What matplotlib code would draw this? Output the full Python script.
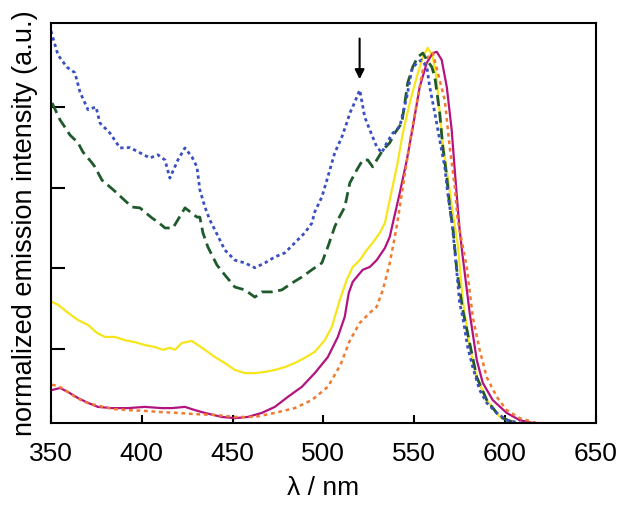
import matplotlib
matplotlib.use("Agg")
import matplotlib.pyplot as plt

# emission spectra (wavelength nm, normalized intensity)
blue_wl = [350.0, 353.9, 358.8, 363.2, 366.0, 370.4, 374.8, 377.0, 382.5, 388.0, 393.5, 399.0,
           404.5, 408.9, 412.8, 415.5, 419.9, 423.8, 427.6, 430.4, 432.0, 434.8, 437.5, 440.3,
           445.8, 451.3, 456.8, 462.3, 467.8, 473.3, 478.8, 484.3, 489.8, 493.7, 495.3, 499.2,
           502.5, 506.3, 510.2, 513.5, 514.6, 516.2, 520.1, 522.8, 525.6, 529.4, 532.2, 535.0,
           538.3, 542.1, 546.0, 548.7, 551.5, 554.2, 557.0, 558.6, 561.4, 564.1, 566.9, 568.5,
           570.7, 572.4, 575.1, 576.8, 579.5, 582.3, 586.1, 590.0, 595.5, 601.0, 608.2]
blue_I = [0.990, 0.930, 0.900, 0.886, 0.838, 0.794, 0.801, 0.761, 0.736, 0.699, 0.700, 0.687,
          0.674, 0.682, 0.669, 0.624, 0.669, 0.699, 0.677, 0.652, 0.595, 0.552, 0.520, 0.495,
          0.445, 0.420, 0.413, 0.401, 0.413, 0.428, 0.438, 0.463, 0.488, 0.512, 0.540, 0.577,
          0.627, 0.687, 0.726, 0.769, 0.786, 0.801, 0.843, 0.776, 0.744, 0.702, 0.687, 0.712,
          0.736, 0.752, 0.826, 0.893, 0.911, 0.918, 0.901, 0.851, 0.786, 0.719, 0.652, 0.587,
          0.520, 0.445, 0.313, 0.279, 0.204, 0.154, 0.097, 0.065, 0.040, 0.022, 0.015]

green_wl = [350.6, 355.0, 360.5, 364.9, 367.6, 372.6, 374.2, 378.1, 382.5, 386.3, 389.1, 394.6,
            399.0, 405.6, 408.9, 412.8, 417.2, 422.1, 423.8, 427.6, 430.4, 432.0, 433.7, 436.4,
            441.4, 445.8, 451.3, 456.8, 462.3, 466.1, 471.7, 477.2, 482.7, 488.2, 493.7, 499.2,
            502.5, 506.3, 508.0, 511.8, 514.6, 518.4, 521.7, 524.5, 527.2, 529.4, 532.8, 536.6,
            539.4, 543.2, 544.9, 546.5, 549.3, 552.0, 554.8, 557.0, 559.7, 561.4, 564.1, 565.8,
            568.0, 569.6, 571.3, 573.5, 576.8, 580.6, 584.5, 590.0, 597.2, 604.3]
green_I = [0.811, 0.769, 0.731, 0.712, 0.689, 0.662, 0.652, 0.619, 0.602, 0.587, 0.575, 0.552,
           0.550, 0.525, 0.515, 0.500, 0.500, 0.537, 0.550, 0.537, 0.527, 0.527, 0.488, 0.453,
           0.408, 0.383, 0.353, 0.346, 0.328, 0.341, 0.341, 0.346, 0.363, 0.378, 0.396, 0.413,
           0.453, 0.503, 0.520, 0.552, 0.612, 0.644, 0.669, 0.669, 0.652, 0.669, 0.694, 0.712,
           0.736, 0.761, 0.811, 0.861, 0.901, 0.925, 0.935, 0.918, 0.901, 0.876, 0.786, 0.702,
           0.627, 0.552, 0.503, 0.396, 0.296, 0.214, 0.129, 0.072, 0.030, 0.017]

yellow_wl = [350.6, 353.9, 359.4, 364.9, 370.4, 375.3, 379.7, 385.2, 390.7, 396.2, 401.7, 407.2,
             411.7, 415.5, 418.3, 422.1, 427.6, 430.9, 434.8, 440.3, 445.8, 451.3, 456.8, 462.3,
             467.8, 473.3, 478.8, 484.3, 489.8, 495.3, 500.8, 504.7, 509.1, 512.9, 516.2, 520.1,
             523.9, 527.2, 531.1, 533.9, 536.6, 540.5, 543.8, 547.6, 551.5, 554.8, 557.5, 560.3,
             562.5, 564.1, 565.8, 568.5, 571.3, 574.0, 576.8, 580.6, 584.5, 590.0, 597.2, 606.5]
yellow_I = [0.316, 0.309, 0.289, 0.271, 0.259, 0.239, 0.229, 0.229, 0.221, 0.216, 0.209, 0.204,
            0.197, 0.202, 0.197, 0.214, 0.219, 0.209, 0.197, 0.179, 0.164, 0.147, 0.139, 0.139,
            0.142, 0.147, 0.154, 0.164, 0.177, 0.192, 0.221, 0.254, 0.321, 0.371, 0.403, 0.420,
            0.445, 0.463, 0.488, 0.512, 0.570, 0.652, 0.736, 0.811, 0.876, 0.925, 0.948, 0.925,
            0.868, 0.786, 0.712, 0.627, 0.537, 0.460, 0.321, 0.204, 0.129, 0.072, 0.030, 0.015]

purple_wl = [350.6, 355.0, 359.4, 364.9, 370.4, 375.9, 383.6, 392.4, 401.7, 411.1, 416.6, 423.8,
             429.3, 434.8, 444.1, 451.3, 458.4, 466.1, 473.3, 480.5, 488.2, 495.3, 502.5, 508.0,
             511.8, 514.0, 516.2, 521.7, 525.6, 529.4, 533.9, 536.6, 538.3, 542.1, 546.0, 549.3,
             553.1, 557.0, 560.3, 562.5, 565.2, 568.0, 570.7, 572.4, 574.0, 575.1, 576.8, 580.6,
             584.5, 587.8, 593.3, 601.0, 608.2, 615.3]
purple_I = [0.097, 0.102, 0.092, 0.077, 0.065, 0.055, 0.052, 0.052, 0.055, 0.052, 0.052, 0.055,
            0.047, 0.040, 0.030, 0.027, 0.030, 0.040, 0.055, 0.080, 0.105, 0.139, 0.179, 0.229,
            0.279, 0.338, 0.366, 0.396, 0.403, 0.420, 0.450, 0.478, 0.512, 0.587, 0.669, 0.751,
            0.851, 0.911, 0.935, 0.938, 0.918, 0.851, 0.744, 0.644, 0.552, 0.495, 0.428, 0.289,
            0.172, 0.115, 0.072, 0.040, 0.022, 0.015]

orange_wl = [350.6, 353.9, 357.7, 363.2, 368.7, 374.2, 383.6, 392.4, 401.7, 411.1, 419.9, 429.3,
             440.3, 451.3, 462.3, 473.3, 484.3, 493.7, 502.5, 509.5, 514.6, 520.1, 525.6, 529.4,
             532.8, 536.6, 539.4, 541.0, 543.8, 547.6, 551.5, 554.8, 557.5, 560.3, 564.1, 566.9,
             569.6, 572.4, 574.0, 579.0, 582.3, 586.1, 590.0, 595.5, 601.0, 608.2, 617.5]
orange_I = [0.110, 0.107, 0.097, 0.080, 0.067, 0.060, 0.050, 0.047, 0.045, 0.042, 0.040, 0.037,
            0.035, 0.030, 0.030, 0.040, 0.052, 0.072, 0.105, 0.160, 0.220, 0.264, 0.289, 0.304,
            0.346, 0.413, 0.478, 0.520, 0.602, 0.712, 0.811, 0.893, 0.925, 0.935, 0.868, 0.818,
            0.702, 0.602, 0.520, 0.403, 0.279, 0.197, 0.129, 0.080, 0.047, 0.027, 0.015]

arrow_wl = 520.0
arrow_from, arrow_to = 0.978, 0.863
xticks = [350, 400, 450, 500, 550, 600, 650]
yticks = [0.2, 0.4, 0.6, 0.8]

plt.rcParams["font.family"] = ["Liberation Sans", "DejaVu Sans"]

fig = plt.figure(figsize=(6.29, 5.09), dpi=100)
ax = fig.add_axes([0.081, 0.169, 0.866, 0.786])

ax.plot(yellow_wl, yellow_I, color="#f7e51c", lw=1.6)
ax.plot(purple_wl, purple_I, color="#b3137f", lw=1.6)
ax.plot(orange_wl, orange_I, color="#f07a30", lw=1.8, ls=(0, (1.5, 1.5)))
ax.plot(green_wl, green_I, color="#1f5a2c", lw=2.0, ls=(0, (4, 2)))
ax.plot(blue_wl, blue_I, color="#3a4fc2", lw=2.0, ls=(0, (1.2, 1.2)))

ax.annotate("", xy=(arrow_wl, arrow_to), xytext=(arrow_wl, arrow_from),
            arrowprops=dict(arrowstyle="-|>", color="black", lw=1.5, mutation_scale=14))

ax.set_xlim(350, 650)
ax.set_ylim(0.015, 1.01)
ax.set_xticks(xticks)
ax.set_yticks(yticks)
ax.set_yticklabels([])
ax.tick_params(axis="x", direction="in", length=6, width=1.5, labelsize=19, pad=14)
ax.tick_params(axis="y", direction="in", length=10, width=1.5)
for s in ax.spines.values():
    s.set_linewidth(1.5)
ax.set_xlabel("λ / nm", fontsize=19, labelpad=7)
ax.set_ylabel("normalized emission intensity (a.u.)", fontsize=19.5, labelpad=6)

fig.savefig("out.png", dpi=100)
